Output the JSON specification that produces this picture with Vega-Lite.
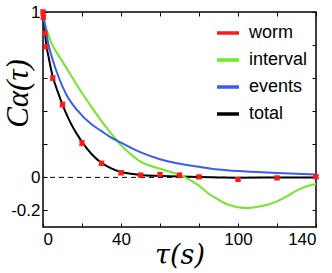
{
  "$schema": "https://vega.github.io/schema/vega-lite/v6.json",
  "autosize": {"type": "none"},
  "padding": {"left": 43, "top": 12, "right": 16, "bottom": 46},
  "width": 273,
  "height": 215,
  "config": {
    "view": {"stroke": "black", "strokeWidth": 1.5},
    "axis": {"grid": false, "domainColor": "black", "tickColor": "black", "labelColor": "black", "labelFont": "Liberation Sans", "labelFontSize": 17, "titleColor": "black"},
    "legend": {"labelFont": "Liberation Sans", "labelFontSize": 18, "labelColor": "black"}
  },
  "datasets": {
    "curves": [
      {"series": "total", "t": 0, "v": 1}, {"series": "total", "t": 0.5, "v": 0.94}, {"series": "total", "t": 1, "v": 0.88}, {"series": "total", "t": 1.5, "v": 0.82}, {"series": "total", "t": 2, "v": 0.78}, {"series": "total", "t": 3, "v": 0.72}, {"series": "total", "t": 4, "v": 0.66}, {"series": "total", "t": 5, "v": 0.61}, {"series": "total", "t": 7.5, "v": 0.52}, {"series": "total", "t": 10, "v": 0.44}, {"series": "total", "t": 12.5, "v": 0.37}, {"series": "total", "t": 15, "v": 0.31}, {"series": "total", "t": 17.5, "v": 0.26}, {"series": "total", "t": 20, "v": 0.215}, {"series": "total", "t": 25, "v": 0.14}, {"series": "total", "t": 30, "v": 0.088}, {"series": "total", "t": 35, "v": 0.055}, {"series": "total", "t": 40, "v": 0.033}, {"series": "total", "t": 45, "v": 0.022}, {"series": "total", "t": 50, "v": 0.015}, {"series": "total", "t": 60, "v": 0.009}, {"series": "total", "t": 70, "v": 0.005}, {"series": "total", "t": 80, "v": 0.002}, {"series": "total", "t": 90, "v": 0.0}, {"series": "total", "t": 100, "v": -0.002}, {"series": "total", "t": 120, "v": -0.001}, {"series": "total", "t": 140, "v": 0},
      {"series": "interval", "t": 0, "v": 1}, {"series": "interval", "t": 1, "v": 0.93}, {"series": "interval", "t": 2, "v": 0.89}, {"series": "interval", "t": 4.4, "v": 0.81}, {"series": "interval", "t": 7, "v": 0.755}, {"series": "interval", "t": 10, "v": 0.7}, {"series": "interval", "t": 14.7, "v": 0.61}, {"series": "interval", "t": 20, "v": 0.51}, {"series": "interval", "t": 25.8, "v": 0.41}, {"series": "interval", "t": 30, "v": 0.34}, {"series": "interval", "t": 35, "v": 0.265}, {"series": "interval", "t": 40, "v": 0.195}, {"series": "interval", "t": 45, "v": 0.14}, {"series": "interval", "t": 50, "v": 0.095}, {"series": "interval", "t": 55, "v": 0.07}, {"series": "interval", "t": 60, "v": 0.052}, {"series": "interval", "t": 65, "v": 0.035}, {"series": "interval", "t": 70, "v": 0.015}, {"series": "interval", "t": 73, "v": 0.0}, {"series": "interval", "t": 76, "v": -0.02}, {"series": "interval", "t": 80, "v": -0.05}, {"series": "interval", "t": 84, "v": -0.09}, {"series": "interval", "t": 90, "v": -0.135}, {"series": "interval", "t": 95, "v": -0.165}, {"series": "interval", "t": 100, "v": -0.18}, {"series": "interval", "t": 105, "v": -0.185}, {"series": "interval", "t": 110, "v": -0.178}, {"series": "interval", "t": 115, "v": -0.165}, {"series": "interval", "t": 120, "v": -0.145}, {"series": "interval", "t": 125, "v": -0.115}, {"series": "interval", "t": 130, "v": -0.08}, {"series": "interval", "t": 135, "v": -0.055}, {"series": "interval", "t": 140, "v": -0.04},
      {"series": "events", "t": 0, "v": 1}, {"series": "events", "t": 1, "v": 0.92}, {"series": "events", "t": 2.7, "v": 0.81}, {"series": "events", "t": 5, "v": 0.71}, {"series": "events", "t": 7.9, "v": 0.61}, {"series": "events", "t": 12, "v": 0.5}, {"series": "events", "t": 17.3, "v": 0.41}, {"series": "events", "t": 25, "v": 0.32}, {"series": "events", "t": 30, "v": 0.28}, {"series": "events", "t": 34.4, "v": 0.245}, {"series": "events", "t": 40, "v": 0.21}, {"series": "events", "t": 45, "v": 0.18}, {"series": "events", "t": 51.4, "v": 0.145}, {"series": "events", "t": 60, "v": 0.11}, {"series": "events", "t": 68.6, "v": 0.085}, {"series": "events", "t": 80, "v": 0.064}, {"series": "events", "t": 90, "v": 0.048}, {"series": "events", "t": 100, "v": 0.038}, {"series": "events", "t": 120, "v": 0.027}, {"series": "events", "t": 140, "v": 0.018}
    ],
    "worm": [
      {"t": 0, "v": 1.0, "lo": 0.988, "hi": 1.012},
      {"t": 0.2, "v": 0.968, "lo": 0.956, "hi": 0.98},
      {"t": 1, "v": 0.87, "lo": 0.858, "hi": 0.882},
      {"t": 1.5, "v": 0.79, "lo": 0.778, "hi": 0.802},
      {"t": 5, "v": 0.6, "lo": 0.588, "hi": 0.612},
      {"t": 10, "v": 0.44, "lo": 0.426, "hi": 0.454},
      {"t": 20, "v": 0.207, "lo": 0.193, "hi": 0.221},
      {"t": 30, "v": 0.085, "lo": 0.073, "hi": 0.097},
      {"t": 40, "v": 0.028, "lo": 0.016, "hi": 0.04},
      {"t": 50, "v": 0.014, "lo": 0.004, "hi": 0.024},
      {"t": 60, "v": 0.018, "lo": 0.008, "hi": 0.028},
      {"t": 70, "v": 0.014, "lo": 0.004, "hi": 0.024},
      {"t": 80, "v": 0.003, "lo": -0.007, "hi": 0.013},
      {"t": 100, "v": -0.012, "lo": -0.022, "hi": -0.002},
      {"t": 120, "v": -0.003, "lo": -0.013, "hi": 0.007},
      {"t": 140, "v": 0.004, "lo": -0.006, "hi": 0.014}
    ],
    "zero": [{"v": 0}]
  },
  "resolve": {"axis": {"x": "independent", "y": "independent"}},
  "layer": [
    {
      "data": {"name": "zero"},
      "mark": {"type": "rule", "color": "black", "strokeDash": [5, 4], "strokeWidth": 1},
      "encoding": {
        "y": {"field": "v", "type": "quantitative", "scale": {"domain": [-0.3, 1]}, "axis": null}
      }
    },
    {
      "data": {"name": "curves"},
      "mark": {"type": "line", "strokeWidth": 2, "interpolate": "monotone"},
      "encoding": {
        "x": {"field": "t", "type": "quantitative", "scale": {"domain": [0, 140], "nice": false},
          "axis": {"orient": "bottom", "values": [0, 20, 40, 60, 80, 100, 120, 140], "tickSize": -4, "labelPadding": 8, "labelExpr": "indexof([0, 40, 100, 140], datum.value) >= 0 ? datum.label : ''", "title": "τ(s)", "titleFont": "DejaVu Serif", "titleFontStyle": "italic", "titleFontWeight": "normal", "titleFontSize": 27, "titlePadding": -5, "domain": false}},
        "y": {"field": "v", "type": "quantitative", "scale": {"domain": [-0.3, 1], "nice": false},
          "axis": {"orient": "left", "values": [-0.2, 0, 0.2, 0.4, 0.6, 0.8, 1], "tickSize": -4, "labelPadding": 7, "labelExpr": "datum.value == 1 ? '1' : (datum.value == 0 ? '0' : (datum.value < -0.1 ? '-0.2' : ''))", "title": "Cα(τ)", "titleFont": "Liberation Serif", "titleFontStyle": "italic", "titleFontWeight": "normal", "titleFontSize": 31, "titleX": -25, "titleY": 81, "titleAngle": -90, "titleBaseline": "middle", "titleAlign": "center", "domain": false}},
        "color": {"field": "series", "type": "nominal",
          "scale": {"domain": ["worm", "interval", "events", "total"], "range": ["#ff1a1a", "#6fe82a", "#3a5cf0", "#000000"]},
          "legend": {"title": null, "orient": "none", "legendX": 172, "legendY": 8, "symbolType": "stroke", "symbolStrokeWidth": 3.5, "symbolSize": 484, "labelOffset": 8, "rowPadding": 5}},
        "strokeWidth": {"condition": {"test": "datum.series == 'total'", "value": 2.5}, "value": 2}
      }
    },
    {
      "data": {"name": "worm"},
      "mark": {"type": "errorbar", "ticks": {"size": 6, "color": "#ff1a1a"}, "color": "#ff1a1a", "thickness": 1.5},
      "encoding": {
        "x": {"field": "t", "type": "quantitative", "axis": null},
        "y": {"field": "lo", "type": "quantitative", "axis": null},
        "y2": {"field": "hi"}
      }
    },
    {
      "data": {"name": "worm"},
      "mark": {"type": "square", "color": "#ff1a1a", "filled": true, "size": 25, "opacity": 1},
      "encoding": {
        "x": {"field": "t", "type": "quantitative", "axis": {"orient": "top", "values": [0, 20, 40, 60, 80, 100, 120, 140], "tickSize": -4, "labels": false, "title": null, "domain": false}},
        "y": {"field": "v", "type": "quantitative", "axis": {"orient": "right", "values": [-0.2, 0, 0.2, 0.4, 0.6, 0.8, 1], "tickSize": -4, "labels": false, "title": null, "domain": false}}
      }
    }
  ]
}
